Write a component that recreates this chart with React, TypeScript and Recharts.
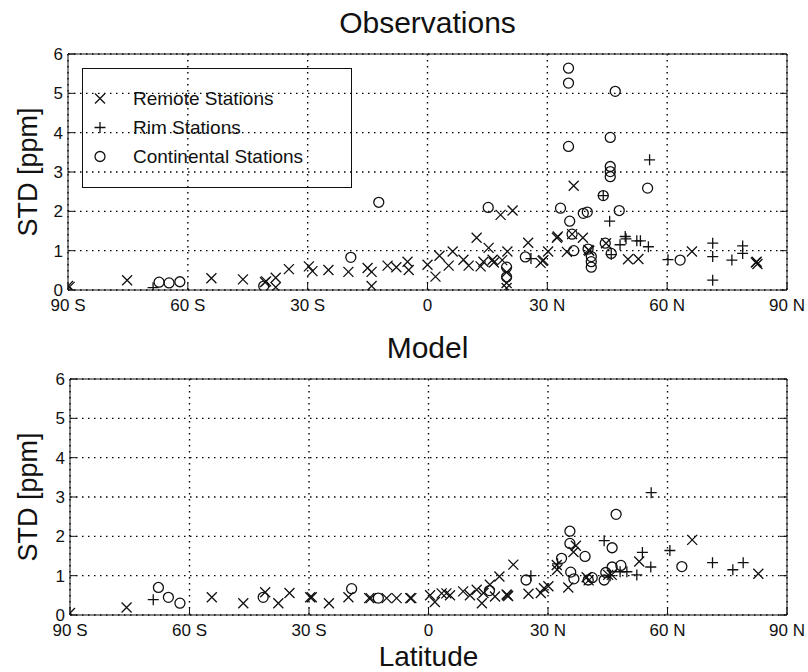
import React from "react";
import { CartesianGrid, Legend, Scatter, ScatterChart, XAxis, YAxis } from "recharts";

type Pt = { lat: number; std: number };
const pts = (rows: number[][]): Pt[] => rows.map(([lat, std]) => ({ lat, std }));

const latTicks = [-90, -60, -30, 0, 30, 60, 90];
const latLabels = ["90 S", "60 S", "30 S", "0", "30 N", "60 N", "90 N"];
const stdTicks = [0, 1, 2, 3, 4, 5, 6];
const seriesNames = ["Remote Stations", "Rim Stations", "Continental Stations"];

// observations
const obsRemote = pts([
  [-90, 0.1], [-89.6, 0.08], [-75.2, 0.25], [-54.1, 0.3], [-46.2, 0.27], [-40.7, 0.2], [-40.4, 0.22],
  [-38, 0.31], [-38, 0.07], [-34.7, 0.53], [-29.7, 0.6], [-28.8, 0.48], [-24.8, 0.51], [-19.8, 0.46],
  [-15, 0.56], [-14, 0.46], [-14, 0.1], [-10, 0.62], [-7.8, 0.58], [-5, 0.72], [-4.7, 0.51],
  [0, 0.64], [2, 0.34], [3, 0.87], [5.3, 0.62], [6.3, 0.98], [9, 0.77], [10.3, 0.62], [12.3, 1.33],
  [13.3, 0.6], [14, 0.72], [15.3, 1.07], [16.3, 0.77], [16.6, 0.7], [18.3, 1.91], [21.3, 2.02],
  [20, 0.98], [18.7, 0.76], [19.8, 0.45], [19.8, 0.18], [19.8, 0.05], [25.2, 1.2], [28.8, 0.74],
  [29, 0.76], [28.3, 0.69], [30.2, 0.98], [32.4, 1.33], [32.6, 1.36], [34.9, 0.97], [36.6, 2.65],
  [36.2, 1.42], [38.9, 1.33], [40.3, 1.02], [40.5, 1.0], [44.7, 1.19], [50.2, 0.78], [52.8, 0.79],
  [66.2, 0.98], [82.4, 0.72], [82.6, 0.66], [82.2, 0.7],
]);
const obsRim = pts([
  [-68.7, 0.06], [25.9, 0.8], [44, 2.4], [45.6, 1.75], [49.5, 1.36], [49.7, 1.3], [48.2, 1.15],
  [52.4, 1.25], [53.3, 1.25], [55.3, 1.1], [55.6, 3.31], [46, 0.9], [60.2, 0.77], [71.4, 1.19],
  [71.4, 0.85], [71.4, 0.25], [76.2, 0.76], [78.9, 1.12], [78.9, 0.93],
]);
const obsContinental = pts([
  [-67.2, 0.2], [-64.7, 0.18], [-62, 0.21], [-41, 0.1], [-19.2, 0.83], [-12.2, 2.23], [15.2, 2.1],
  [19.8, 0.58], [19.8, 0.33], [24.5, 0.84], [33.3, 2.08], [35.3, 5.64], [35.3, 5.26], [47, 5.05],
  [45.75, 3.88], [35.3, 3.65], [45.75, 3.14], [45.75, 3.01], [45.75, 2.88], [55.1, 2.59], [44, 2.4],
  [39, 1.95], [40, 1.98], [48, 2.02], [35.6, 1.75], [36.2, 1.42], [44.5, 1.19], [36.6, 1.0],
  [40.2, 1.04], [41, 0.85], [41, 0.72], [41, 0.58], [46, 0.93], [63.25, 0.76],
]);

// model
const modelRemote = pts([
  [-90, 0.05], [-75.8, 0.19], [-54.4, 0.45], [-46.5, 0.3], [-41, 0.58], [-37.7, 0.3], [-34.9, 0.56],
  [-29.7, 0.45], [-29.3, 0.45], [-25, 0.3], [-20.1, 0.45], [-14.9, 0.43], [-14.5, 0.43], [-10.5, 0.43],
  [-8, 0.43], [-4.6, 0.43], [-4.3, 0.43], [0.4, 0.5], [1.6, 0.33], [3.3, 0.55], [4.5, 0.55],
  [5.4, 0.5], [8.7, 0.6], [10.4, 0.5], [12.1, 0.64], [13.4, 0.3], [13.8, 0.56], [15.4, 0.77],
  [16.7, 0.47], [17.8, 0.98], [19.8, 0.5], [20, 0.48], [19.6, 0.52], [21.3, 1.28], [25.1, 0.54],
  [28.2, 0.56], [29, 0.68], [30.1, 0.73], [32.2, 1.27], [32.3, 1.15], [35.1, 0.7], [36.4, 1.6],
  [37, 1.76], [39.7, 0.96], [40.2, 0.88], [45.1, 1.02], [46, 1.02], [52.9, 1.36], [66.2, 1.91],
  [82.8, 1.05],
]);
const modelRim = pts([
  [-69.1, 0.39], [25.7, 1.0], [32.4, 1.3], [44.1, 1.89], [45.6, 1.0], [48.1, 1.1], [49.8, 1.1],
  [52.3, 1.02], [53.7, 1.59], [55.8, 1.22], [55.9, 3.11], [60.6, 1.64], [71.3, 1.33], [76.4, 1.15],
  [79, 1.33],
]);
const modelContinental = pts([
  [-67.8, 0.7], [-65.3, 0.45], [-62.4, 0.3], [-41.5, 0.45], [-19.3, 0.67], [-12.6, 0.43], [15.3, 0.62],
  [24.5, 0.89], [33.4, 1.44], [35.5, 2.13], [35.5, 1.82], [39.3, 1.49], [35.7, 1.09], [36.5, 0.92],
  [40.1, 0.89], [41.1, 0.95], [47.1, 2.56], [46.1, 1.71], [44.5, 1.08], [44.1, 0.89], [46.1, 1.22],
  [48.3, 1.26], [63.6, 1.23],
]);

const FONT = "'Liberation Sans', Arial, Helvetica, sans-serif";
const INK = "#111";

function CrossX({ cx, cy }: any) {
  const r = 5;
  return (
    <path
      d={`M${cx - r},${cy - r}L${cx + r},${cy + r}M${cx - r},${cy + r}L${cx + r},${cy - r}`}
      stroke={INK}
      strokeWidth={1.3}
      fill="none"
    />
  );
}

function Plus({ cx, cy }: any) {
  const r = 5.5;
  return (
    <path d={`M${cx - r},${cy}L${cx + r},${cy}M${cx},${cy - r}L${cx},${cy + r}`} stroke={INK} strokeWidth={1.3} fill="none" />
  );
}

function Ring({ cx, cy }: any) {
  return <circle cx={cx} cy={cy} r={5} stroke={INK} strokeWidth={1.3} fill="none" />;
}

const markers = [CrossX, Plus, Ring];

function LegendBox() {
  return (
    <div
      style={{
        width: 270,
        height: 120,
        boxSizing: "border-box",
        border: `1px solid ${INK}`,
        paddingTop: 15,
        fontFamily: FONT,
        fontSize: 19,
        color: INK,
      }}
    >
      {seriesNames.map((name, i) => {
        const Marker = markers[i];
        return (
          <div key={name} style={{ display: "flex", alignItems: "center", height: 29 }}>
            <svg width={34} height={29}>
              <Marker cx={17} cy={14.5} />
            </svg>
            <span style={{ marginLeft: 16 }}>{name}</span>
          </div>
        );
      })}
    </div>
  );
}

const tickStyle = { fontSize: 17, fill: INK, fontFamily: FONT };
const latFormat = (v: number) => latLabels[latTicks.indexOf(v)] ?? "";

function Panel({
  remote,
  rim,
  continental,
  yAxisWidth,
  marginTop,
  xAxisHeight,
  marginBottom,
  showLegend,
  xLabel,
}: {
  remote: Pt[];
  rim: Pt[];
  continental: Pt[];
  yAxisWidth: number;
  marginTop: number;
  xAxisHeight: number;
  marginBottom: number;
  showLegend?: boolean;
  xLabel?: string;
}) {
  return (
    <ScatterChart width={808} height={336} margin={{ top: marginTop, right: 20, bottom: marginBottom, left: 0 }}>
      <CartesianGrid stroke="#000" strokeDasharray="1.5 4.5" strokeWidth={1.4} />
      <XAxis
        type="number"
        dataKey="lat"
        domain={[-90, 90]}
        ticks={latTicks}
        interval={0}
        allowDataOverflow
        height={xAxisHeight}
        tickSize={-7}
        tickMargin={16}
        tickFormatter={latFormat}
        tick={tickStyle}
        axisLine={{ stroke: INK }}
        tickLine={{ stroke: INK }}
        label={xLabel ? { value: xLabel, position: "insideBottom", offset: 6, fontSize: 28, fill: INK, fontFamily: FONT } : undefined}
      />
      <XAxis
        xAxisId="top"
        orientation="top"
        type="number"
        domain={[-90, 90]}
        ticks={latTicks}
        interval={0}
        allowDataOverflow
        height={1}
        tickSize={-7}
        tickFormatter={() => ""}
        axisLine={{ stroke: INK }}
        tickLine={{ stroke: INK }}
      />
      <YAxis
        type="number"
        dataKey="std"
        domain={[0, 6]}
        ticks={stdTicks}
        interval={0}
        allowDataOverflow
        width={yAxisWidth}
        tickSize={-7}
        tickMargin={12}
        tick={tickStyle}
        axisLine={{ stroke: INK }}
        tickLine={{ stroke: INK }}
        label={{
          value: "STD [ppm]",
          angle: -90,
          position: "insideLeft",
          offset: 27,
          fill: INK,
          style: { textAnchor: "middle", fontSize: 27, fontFamily: FONT },
        }}
      />
      <YAxis
        yAxisId="right"
        orientation="right"
        type="number"
        domain={[0, 6]}
        ticks={stdTicks}
        interval={0}
        allowDataOverflow
        width={1}
        tickSize={-7}
        tickFormatter={() => ""}
        axisLine={{ stroke: INK }}
        tickLine={{ stroke: INK }}
      />
      {showLegend && (
        <Legend
          layout="vertical"
          align="center"
          verticalAlign="middle"
          content={() => <LegendBox />}
          wrapperStyle={{ left: 82, top: 68, width: 270, height: 120 }}
        />
      )}
      <Scatter name={seriesNames[0]} data={remote} shape={CrossX} isAnimationActive={false} />
      <Scatter name={seriesNames[1]} data={rim} shape={Plus} isAnimationActive={false} />
      <Scatter name={seriesNames[2]} data={continental} shape={Ring} isAnimationActive={false} />
    </ScatterChart>
  );
}

const titleStyle: React.CSSProperties = {
  position: "absolute",
  left: 68,
  width: 719,
  textAlign: "center",
  fontSize: 30,
  lineHeight: "30px",
  fontFamily: FONT,
  color: INK,
};

export default function App() {
  return (
    <div style={{ position: "absolute", left: 0, top: 0, width: 808, height: 672, background: "#fff", overflow: "hidden" }}>
      <div style={{ position: "absolute", left: 0, top: 0 }}>
        <Panel
          remote={obsRemote}
          rim={obsRim}
          continental={obsContinental}
          yAxisWidth={68}
          marginTop={53}
          xAxisHeight={30}
          marginBottom={16}
          showLegend
        />
      </div>
      <div style={{ position: "absolute", left: 0, top: 336 }}>
        <Panel
          remote={modelRemote}
          rim={modelRim}
          continental={modelContinental}
          yAxisWidth={70}
          marginTop={42}
          xAxisHeight={57}
          marginBottom={0}
          xLabel="Latitude"
        />
      </div>
      <div style={{ ...titleStyle, top: 8 }}>Observations</div>
      <div style={{ ...titleStyle, top: 333 }}>Model</div>
    </div>
  );
}
